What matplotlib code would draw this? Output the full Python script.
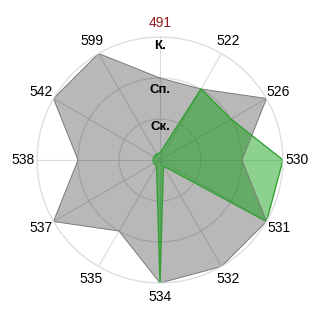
import numpy as np
import matplotlib
matplotlib.use('Agg')
import matplotlib.pyplot as plt

plt.rcParams['font.family'] = ['Liberation Sans', 'DejaVu Sans']

# Categories clockwise from the top
categories = ['491', '522', '526', '530', '531', '532', '534', '535', '537', '538', '542', '599']
# Levels: 1 = Ск., 2 = Сп., 3 = К.
gray_values = [2, 2, 3, 2, 3, 3, 3, 2, 3, 2, 3, 3]
green_values = [0.17, 2, 2, 3, 3, 0.17, 3, 0.17, 0.17, 0.17, 0.17, 0.17]
ring_labels = ['Ск.', 'Сп.', 'К.']
ring_label_r = [0.8, 1.7, 2.78]

n = len(categories)
theta = np.arange(n) * 2 * np.pi / n
theta_closed = np.append(theta, theta[0])

fig = plt.figure(figsize=(3.2, 3.2), dpi=100)
ax = fig.add_axes([0.1156, 0.1156, 0.76875, 0.76875], projection='polar')
ax.set_theta_zero_location('N')
ax.set_theta_direction(-1)
ax.set_ylim(0, 3)
ax.set_axisbelow(True)

ax.set_xticks(theta)
ax.set_xticklabels([])
ax.set_yticks([1, 2, 3])
ax.set_yticklabels([])
ax.grid(True, color='#dcdcdc', linewidth=0.8)
ax.spines['polar'].set_color('#dcdcdc')
ax.spines['polar'].set_linewidth(0.8)

# Gray polygon
g = np.append(gray_values, gray_values[0])
ax.fill(theta_closed, g, color='black', alpha=0.28, linewidth=0)
ax.plot(theta_closed, g, color='#7a7a7a', linewidth=0.7)

# Green polygon
gr = np.append(green_values, green_values[0])
ax.fill(theta_closed, gr, color='#009d06', alpha=0.45, linewidth=0)
ax.plot(theta_closed, gr, color='#35a035', linewidth=1.0)

# Category labels
for t, lab in zip(theta, categories):
    col = '#8b1a1a' if lab == '491' else 'black'
    ax.text(t, 3.34, lab, ha='center', va='center', fontsize=10, color=col)

# Ring labels
for r, lab in zip(ring_label_r, ring_labels):
    ax.text(0, r, lab, ha='center', va='center', fontsize=9.5,
            fontweight='bold', color='black')

fig.savefig('out.png', dpi=100)
